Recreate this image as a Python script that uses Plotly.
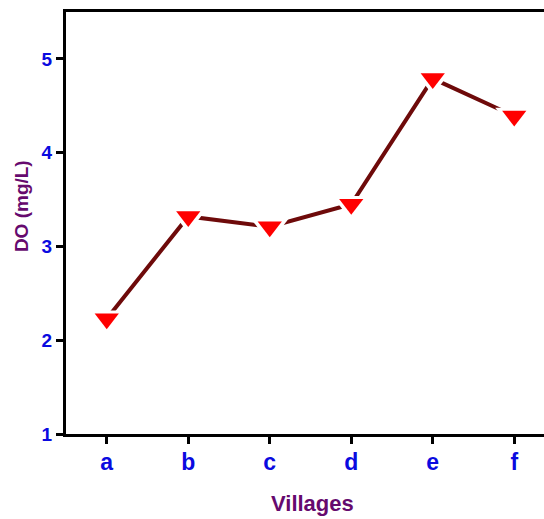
import plotly.graph_objects as go

# Dissolved oxygen measured in each village
villages = ["a", "b", "c", "d", "e", "f"]
do_mg_l = [2.23, 3.32, 3.21, 3.45, 4.79, 4.39]
y_ticks = [1, 2, 3, 4, 5]

FONT = "Liberation Sans, Arial, sans-serif"
BLUE = "#0a0ae0"
PURPLE = "#660a6e"
xs = list(range(len(villages)))

fig = go.Figure()
# connecting line
fig.add_trace(go.Scatter(
    x=xs, y=do_mg_l, mode="lines",
    line=dict(color="#6e0a0a", width=4),
    showlegend=False, hoverinfo="skip",
))
# white halo that leaves a small gap between line and symbol
fig.add_trace(go.Scatter(
    x=xs, y=do_mg_l, mode="markers",
    marker=dict(symbol="triangle-down", size=33, color="white"),
    showlegend=False, hoverinfo="skip",
))
# symbols
fig.add_trace(go.Scatter(
    x=xs, y=do_mg_l, mode="markers",
    marker=dict(symbol="triangle-down", size=21, color="#ff0000"),
    showlegend=False,
))

fig.update_layout(
    width=544, height=519,
    margin=dict(l=66, r=0, t=12, b=85),
    paper_bgcolor="white", plot_bgcolor="white",
    xaxis=dict(
        range=[-0.5, 5.365],
        tickmode="array",
        tickvals=xs,
        ticktext=villages,
        showgrid=False, zeroline=False,
        showline=True, linecolor="black", linewidth=3, mirror=True,
        ticks="outside", ticklen=7, tickwidth=3, tickcolor="black",
        tickfont=dict(family=FONT, size=23, color=BLUE, weight="bold"),
        ticklabelstandoff=-2,
    ),
    yaxis=dict(
        range=[1, 5.5],
        tickmode="array",
        tickvals=y_ticks,
        showgrid=False, zeroline=False,
        showline=True, linecolor="black", linewidth=3,
        ticks="outside", ticklen=7, tickwidth=3, tickcolor="black",
        tickfont=dict(family=FONT, size=19, color=BLUE, weight="bold"),
        ticklabelstandoff=0,
    ),
    annotations=[
        dict(text="Villages", xref="x", yref="paper", x=2.53, y=0,
             yshift=-69, showarrow=False, yanchor="middle",
             font=dict(family=FONT, size=22, color=PURPLE, weight="bold")),
        dict(text="DO (mg/L)", xref="paper", yref="paper", x=0, y=0.54,
             xshift=-45, showarrow=False, textangle=-90, xanchor="center",
             font=dict(family=FONT, size=19, color=PURPLE, weight="bold")),
    ],
)

fig.write_html("out.html")
